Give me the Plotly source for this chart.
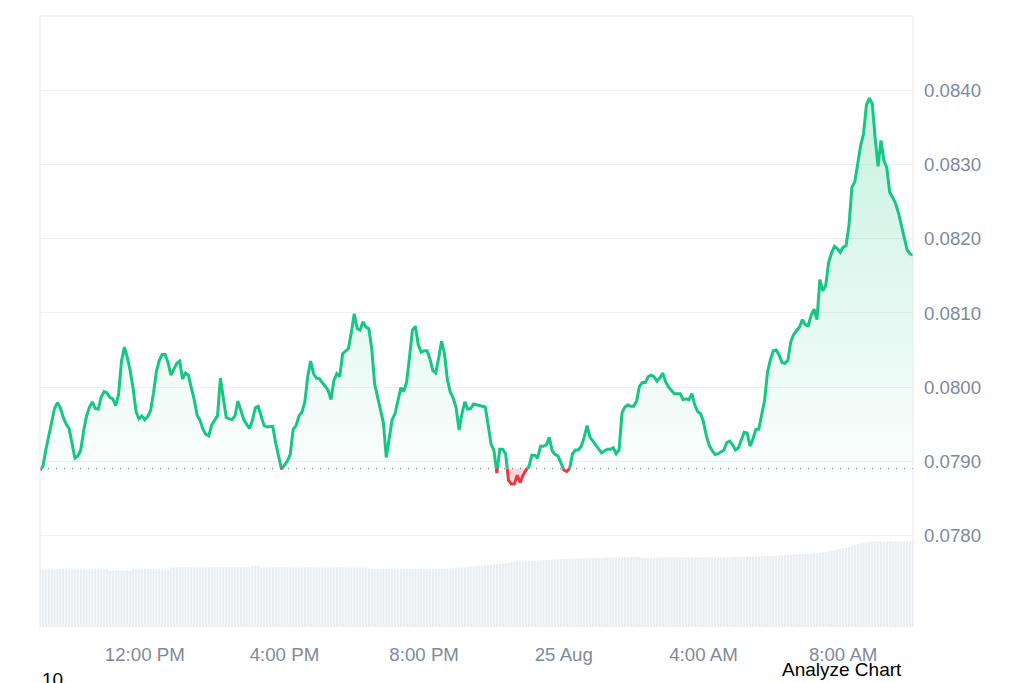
"""
24h price chart (line split at the opening price) with a volume strip underneath.
Output: out.html
"""

import pandas as pd
import plotly.graph_objects as go

# --- data -------------------------------------------------------------------

START = "2024-08-24 09:00"
STEP = "5min"

# price every 5 minutes, 09:00 (24 Aug) -> 10:00 (25 Aug)
price = [
    0.07888, 0.07893, 0.07915, 0.07935, 0.07956, 0.07971, 0.07979, 0.07972, 0.07959, 0.07950,
    0.07944, 0.07924, 0.07904, 0.07907, 0.07915, 0.07941, 0.07961, 0.07973, 0.07980, 0.07971,
    0.07970, 0.07986, 0.07994, 0.07992, 0.07986, 0.07984, 0.07975, 0.07990, 0.08035, 0.08054,
    0.08040, 0.08022, 0.07998, 0.07967, 0.07957, 0.07961, 0.07956, 0.07960, 0.07968, 0.07992,
    0.08021, 0.08036, 0.08044, 0.08044, 0.08033, 0.08016, 0.08023, 0.08032, 0.08035, 0.08011,
    0.08019, 0.08016, 0.07999, 0.07983, 0.07962, 0.07955, 0.07943, 0.07936, 0.07934, 0.07949,
    0.07955, 0.07961, 0.08012, 0.07988, 0.07959, 0.07957, 0.07956, 0.07961, 0.07981, 0.07969,
    0.07956, 0.07950, 0.07944, 0.07955, 0.07972, 0.07974, 0.07962, 0.07948, 0.07946, 0.07946,
    0.07947, 0.07924, 0.07905, 0.07889, 0.07895, 0.07900, 0.07909, 0.07943, 0.07948, 0.07961,
    0.07966, 0.07980, 0.08014, 0.08035, 0.08018, 0.08012, 0.08011, 0.08006, 0.08000, 0.07996,
    0.07983, 0.08009, 0.08018, 0.08014, 0.08045, 0.08049, 0.08052, 0.08074, 0.08099, 0.08079,
    0.08077, 0.08088, 0.08081, 0.08079, 0.08052, 0.08004, 0.07985, 0.07971, 0.07952, 0.07905,
    0.07928, 0.07956, 0.07964, 0.07983, 0.07999, 0.07994, 0.08007, 0.08041, 0.08077, 0.08082,
    0.08057, 0.08047, 0.08049, 0.08049, 0.08038, 0.08022, 0.08019, 0.08039, 0.08062, 0.08045,
    0.08010, 0.07993, 0.07985, 0.07972, 0.07942, 0.07964, 0.07980, 0.07970, 0.07971, 0.07977,
    0.07976, 0.07975, 0.07975, 0.07973, 0.07949, 0.07923, 0.07914, 0.07884, 0.07916, 0.07916,
    0.07910, 0.07874, 0.07869, 0.07869, 0.07881, 0.07871, 0.07881, 0.07889, 0.07892, 0.07908,
    0.07908, 0.07904, 0.07920, 0.07920, 0.07922, 0.07932, 0.07914, 0.07909, 0.07907, 0.07898,
    0.07888, 0.07886, 0.07890, 0.07910, 0.07915, 0.07915, 0.07920, 0.07932, 0.07948, 0.07932,
    0.07927, 0.07922, 0.07916, 0.07911, 0.07914, 0.07916, 0.07916, 0.07918, 0.07910, 0.07915,
    0.07965, 0.07973, 0.07976, 0.07974, 0.07974, 0.07981, 0.08001, 0.08006, 0.08006, 0.08014,
    0.08016, 0.08014, 0.08008, 0.08012, 0.08019, 0.08007, 0.08000, 0.07995, 0.07991, 0.07991,
    0.07991, 0.07983, 0.07984, 0.07983, 0.07991, 0.07976, 0.07967, 0.07964, 0.07953, 0.07934,
    0.07921, 0.07914, 0.07909, 0.07910, 0.07913, 0.07915, 0.07925, 0.07927, 0.07922, 0.07915,
    0.07918, 0.07928, 0.07939, 0.07938, 0.07920, 0.07930, 0.07943, 0.07943, 0.07962, 0.07982,
    0.08020, 0.08037, 0.08049, 0.08050, 0.08043, 0.08033, 0.08032, 0.08036, 0.08061, 0.08071,
    0.08076, 0.08081, 0.08091, 0.08084, 0.08083, 0.08097, 0.08105, 0.08091, 0.08145, 0.08130,
    0.08137, 0.08168, 0.08181, 0.08190, 0.08187, 0.08182, 0.08189, 0.08191, 0.08218, 0.08270,
    0.08277, 0.08303, 0.08326, 0.08342, 0.08381, 0.08390, 0.08383, 0.08336, 0.08298, 0.08333,
    0.08306, 0.08296, 0.08263, 0.08256, 0.08248, 0.08235, 0.08218, 0.08198, 0.08185, 0.08180,
    0.08178,
]

# volume (M) for the same 5 minute slots
volume = [
    28.9, 28.8, 28.9, 28.9, 28.8, 28.9, 28.9, 29.0, 28.9, 28.9,
    28.9, 28.8, 28.9, 28.9, 28.9, 28.8, 28.9, 28.9, 28.9, 28.8,
    28.9, 28.9, 28.8, 28.9, 28.3, 28.2, 28.2, 28.3, 28.2, 28.2,
    28.3, 28.2, 28.9, 28.9, 29.0, 28.9, 28.9, 28.9, 29.0, 28.9,
    28.9, 29.0, 28.9, 28.9, 29.0, 29.7, 29.8, 29.8, 29.7, 29.8,
    29.8, 29.8, 29.7, 29.8, 29.8, 29.9, 29.8, 29.8, 29.7, 29.8,
    29.8, 29.8, 29.9, 29.8, 29.8, 29.8, 29.7, 29.8, 29.8, 29.8,
    29.9, 29.8, 29.8, 30.7, 30.8, 30.6, 29.9, 29.8, 29.8, 29.8,
    29.8, 29.7, 29.8, 29.8, 29.8, 29.9, 29.8, 29.8, 29.8, 29.7,
    29.8, 29.8, 29.8, 29.9, 29.8, 29.8, 29.8, 29.7, 29.8, 29.8,
    29.8, 29.8, 29.9, 29.8, 29.8, 29.7, 29.8, 29.8, 29.8, 29.8,
    29.7, 29.8, 29.8, 29.1, 29.0, 29.1, 29.1, 29.0, 29.1, 29.1,
    29.0, 29.1, 29.1, 29.1, 29.0, 29.1, 29.1, 29.1, 29.0, 29.1,
    29.1, 29.1, 29.0, 29.1, 29.1, 29.0, 29.1, 29.1, 29.2, 29.2,
    29.3, 29.4, 29.4, 29.6, 29.8, 29.8, 30.0, 30.1, 30.3, 30.3,
    30.5, 30.6, 30.8, 30.9, 31.0, 31.2, 31.3, 31.4, 31.6, 31.7,
    31.9, 32.0, 32.3, 32.6, 32.7, 32.7, 32.8, 32.9, 33.0, 33.0,
    33.1, 33.3, 33.4, 33.5, 33.6, 33.7, 33.7, 33.8, 33.9, 34.0,
    34.0, 34.1, 34.1, 34.2, 34.2, 34.3, 34.3, 34.3, 34.4, 34.4,
    34.5, 34.5, 34.5, 34.6, 34.6, 34.7, 34.7, 34.8, 34.8, 34.9,
    34.9, 35.0, 35.0, 35.1, 35.1, 35.0, 35.0, 34.6, 34.6, 34.6,
    34.6, 34.6, 34.7, 34.7, 34.6, 34.7, 34.7, 34.7, 34.7, 34.7,
    34.8, 34.7, 34.7, 34.8, 34.8, 34.8, 34.8, 34.8, 34.8, 34.9,
    34.8, 34.9, 34.9, 34.9, 34.9, 34.9, 35.0, 34.9, 35.0, 35.0,
    35.0, 35.1, 35.1, 35.2, 35.2, 35.3, 35.3, 35.4, 35.4, 35.5,
    35.5, 35.6, 35.6, 35.7, 35.7, 35.8, 35.9, 36.0, 36.1, 36.2,
    36.3, 36.4, 36.5, 36.6, 36.7, 36.8, 36.9, 36.9, 37.0, 37.3,
    37.6, 37.9, 38.2, 38.5, 38.8, 39.1, 39.4, 39.6, 40.1, 40.6,
    41.0, 41.5, 41.9, 42.2, 42.4, 42.6, 42.6, 42.7, 42.7, 42.7,
    42.7, 42.7, 42.8, 42.7, 42.8, 42.8, 42.8, 42.8, 42.8, 42.8,
    42.8,
]

open_price = 0.07890          # 24h open, the dotted reference line
price_ticks = [0.0780, 0.0790, 0.0800, 0.0810, 0.0820, 0.0830, 0.0840]
time_ticks = ["2024-08-24 12:00", "2024-08-24 16:00", "2024-08-24 20:00",
              "2024-08-25 00:00", "2024-08-25 04:00", "2024-08-25 08:00"]
time_labels = ["12:00 PM", "4:00 PM", "8:00 PM", "25 Aug", "4:00 AM", "8:00 AM"]

GREEN = "#16c784"
RED = "#ea3943"
GREY = "#808a9d"
FONT = "Arial, 'Liberation Sans', sans-serif"


def split_at(ts, ys, base):
    """Add the points where the line crosses base so both colours meet there."""
    xs_out, ys_out = [ts[0]], [ys[0]]
    for i in range(1, len(ys)):
        y0, y1 = ys[i - 1], ys[i]
        if (y0 - base) * (y1 - base) < 0:
            frac = (base - y0) / (y1 - y0)
            xs_out.append(ts[i - 1] + (ts[i] - ts[i - 1]) * frac)
            ys_out.append(base)
        xs_out.append(ts[i])
        ys_out.append(y1)
    return xs_out, ys_out


times = list(pd.date_range(START, periods=len(price), freq=STEP))
mx, my = split_at(times, price, open_price)

up_line = [y if y >= open_price else None for y in my]
down_line = [y if y <= open_price else None for y in my]
up_fill = [max(y, open_price) for y in my]
down_fill = [min(y, open_price) for y in my]
edge = [times[0], times[-1]]

fig = go.Figure()

# volume strip on its own hidden axis
fig.add_trace(go.Bar(
    x=times, y=volume, yaxis="y2",
    marker=dict(color="#eaeef3", line=dict(width=0)),
    hoverinfo="skip",
))

# green area between line and open price
fig.add_trace(go.Scatter(x=edge, y=[open_price, open_price], mode="lines",
                         line=dict(width=0), hoverinfo="skip"))
fig.add_trace(go.Scatter(
    x=mx, y=up_fill, mode="lines", fill="tonexty", line=dict(width=0),
    fillgradient=dict(type="vertical", start=open_price, stop=0.0840,
                      colorscale=[[0, "rgba(22,199,132,0.02)"],
                                  [1, "rgba(22,199,132,0.24)"]]),
    hoverinfo="skip",
))

# red area below open price
fig.add_trace(go.Scatter(x=edge, y=[open_price, open_price], mode="lines",
                         line=dict(width=0), hoverinfo="skip"))
fig.add_trace(go.Scatter(
    x=mx, y=down_fill, mode="lines", fill="tonexty", line=dict(width=0),
    fillcolor="rgba(234,57,67,0.2)", hoverinfo="skip",
))

fig.add_trace(go.Scatter(x=mx, y=up_line, mode="lines",
                         line=dict(color=GREEN, width=3), hoverinfo="skip"))
fig.add_trace(go.Scatter(x=mx, y=down_line, mode="lines",
                         line=dict(color=RED, width=3), hoverinfo="skip"))

border = dict(color="#e6e9ee", width=1)
fig.add_shape(type="line", xref="paper", yref="y", x0=0, x1=1,
              y0=open_price, y1=open_price, layer="below",
              line=dict(color=GREY, width=1.5, dash="1px,7px"))
fig.add_shape(type="line", xref="paper", yref="paper", x0=0, x1=1, y0=1, y1=1, line=border)
fig.add_shape(type="line", xref="paper", yref="paper", x0=0, x1=0, y0=0, y1=1, line=border)
fig.add_shape(type="line", xref="paper", yref="paper", x0=1, x1=1, y0=0, y1=1, line=border)

fig.add_annotation(text="Analyze Chart", xref="paper", yref="paper",
                   x=0.848, y=-0.070, xanchor="left", yanchor="middle",
                   showarrow=False, font=dict(size=19, color="#000000", family=FONT))
fig.add_annotation(text="10", xref="paper", yref="paper",
                   x=0.0, y=-0.066, xanchor="left", yanchor="top",
                   showarrow=False, font=dict(size=19, color="#000000", family=FONT))

# the page adds an 8px body margin, so the margins below are 8px smaller/larger
fig.update_layout(
    width=1024, height=683,
    margin=dict(l=32, r=119, t=8, b=64),
    paper_bgcolor="white", plot_bgcolor="white",
    showlegend=False, hovermode=False,
    bargap=0.2,
    font=dict(family=FONT, size=18.7, color=GREY),
    xaxis=dict(
        type="date", range=[times[0], times[-1]],
        showgrid=False, zeroline=False, showline=False, ticks="",
        tickvals=time_ticks, ticktext=time_labels,
        ticklabelstandoff=14,
    ),
    yaxis=dict(
        side="right", range=[0.07676, 0.08501],
        tickvals=price_ticks, tickformat=".4f",
        showgrid=True, gridcolor="#eff1f4", gridwidth=1,
        zeroline=False, showline=False, ticks="",
        ticklabelstandoff=10,
    ),
    yaxis2=dict(overlaying="y", range=[0, 305.5], visible=False, fixedrange=True),
)

fig.write_html("out.html")
